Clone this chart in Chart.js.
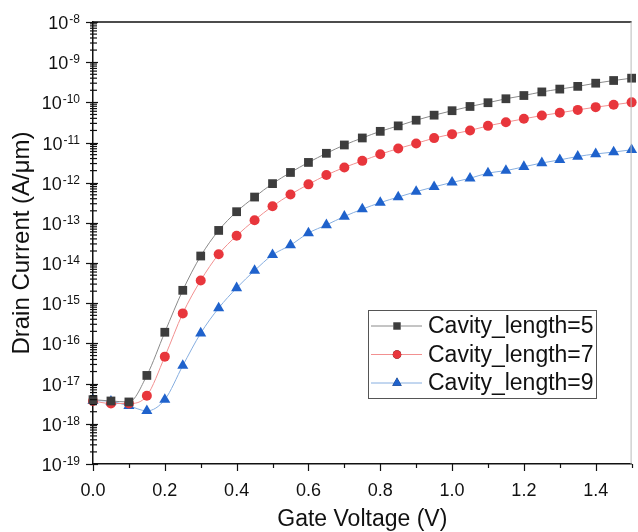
<!DOCTYPE html>
<html>
<head>
<meta charset="utf-8">
<script src="https://cdn.jsdelivr.net/npm/chart.js@4.4.0/dist/chart.umd.min.js"></script>
<style>
  html, body { margin: 0; padding: 0; background: #fff; }
</style>
</head>
<body>
<canvas id="ivChart" width="638" height="532"></canvas>
<script>
// Gate voltage sweep (V)
const gateVoltage = [0, 0.05, 0.1, 0.15, 0.2, 0.25, 0.3, 0.35, 0.4, 0.45, 0.5, 0.55, 0.6, 0.65, 0.7, 0.75,
  0.8, 0.85, 0.9, 0.95, 1.0, 1.05, 1.1, 1.15, 1.2, 1.25, 1.3, 1.35, 1.4, 1.45, 1.5];

// Drain current (A/um)
const cavity5 = [4.0e-18, 3.7e-18, 3.5e-18, 1.6e-17, 1.9e-16, 2.1e-15, 1.5e-14, 6.5e-14, 1.9e-13, 4.4e-13,
  9.5e-13, 1.8e-12, 3.2e-12, 5.4e-12, 8.7e-12, 1.3e-11, 1.9e-11, 2.6e-11, 3.6e-11, 4.8e-11,
  6.2e-11, 7.9e-11, 9.8e-11, 1.23e-10, 1.48e-10, 1.82e-10, 2.14e-10, 2.5e-10, 3.0e-10, 3.5e-10, 4.0e-10];
const cavity7 = [3.7e-18, 3.2e-18, 3.2e-18, 5.0e-18, 4.7e-17, 5.6e-16, 3.7e-15, 1.66e-14, 4.8e-14, 1.17e-13,
  2.6e-13, 5.1e-13, 9.1e-13, 1.55e-12, 2.4e-12, 3.5e-12, 5.1e-12, 7.1e-12, 9.5e-12, 1.29e-11,
  1.62e-11, 2.0e-11, 2.6e-11, 3.2e-11, 3.9e-11, 4.7e-11, 5.5e-11, 6.5e-11, 7.6e-11, 8.7e-11, 1.0e-10];
const cavity9 = [3.8e-18, 3.6e-18, 2.8e-18, 2.1e-18, 4.0e-18, 2.8e-17, 1.8e-16, 7.6e-16, 2.4e-15, 6.5e-15,
  1.6e-14, 2.8e-14, 5.6e-14, 8.9e-14, 1.45e-13, 2.2e-13, 3.2e-13, 4.4e-13, 6.0e-13, 7.9e-13,
  1.02e-12, 1.29e-12, 1.74e-12, 2.0e-12, 2.5e-12, 3.1e-12, 3.7e-12, 4.5e-12, 5.2e-12, 5.8e-12, 6.6e-12];

const seriesNames = ['Cavity_length=5', 'Cavity_length=7', 'Cavity_length=9'];

// axis ticks
const xMajorTicks = [0, 0.2, 0.4, 0.6, 0.8, 1.0, 1.2, 1.4];
const xMinorTicks = [0.1, 0.3, 0.5, 0.7, 0.9, 1.1, 1.3, 1.5];
const yDecades = [-19, -18, -17, -16, -15, -14, -13, -12, -11, -10, -9, -8];

const FONT = "'Liberation Sans', Arial, sans-serif";

// frame, tick marks, 10^n labels and the boxed legend
const framePlugin = {
  id: 'originFrame',
  afterDraw(chart) {
    const ctx = chart.ctx;
    const area = chart.chartArea;
    const xs = chart.scales.x, ys = chart.scales.y;
    ctx.save();
    ctx.strokeStyle = '#111';
    ctx.lineWidth = 1.5;
    ctx.beginPath();
    ctx.moveTo(area.left, area.top); ctx.lineTo(area.right, area.top);
    ctx.stroke();
    ctx.strokeStyle = '#bbb';
    ctx.lineWidth = 1;
    ctx.beginPath();
    ctx.moveTo(area.right - 0.5, area.top); ctx.lineTo(area.right - 0.5, area.bottom);
    ctx.stroke();

    // y ticks + labels
    ctx.strokeStyle = '#111';
    ctx.fillStyle = '#111';
    ctx.lineWidth = 1.2;
    yDecades.forEach(e => {
      const py = Math.round(ys.getPixelForValue(Math.pow(10, e))) + 0.5;
      ctx.beginPath(); ctx.moveTo(area.left - 7, py); ctx.lineTo(area.left + 5, py); ctx.stroke();
      if (e < -8) {
        for (let m = 2; m <= 9; m++) {
          const p = ys.getPixelForValue(m * Math.pow(10, e));
          ctx.beginPath(); ctx.moveTo(area.left - 3, p); ctx.lineTo(area.left + 4, p); ctx.stroke();
        }
      }
      ctx.textAlign = 'right';
      ctx.textBaseline = 'alphabetic';
      ctx.font = '12px ' + FONT;
      const expText = String(e);
      const expRight = area.left - 13;
      ctx.fillText(expText, expRight, py + 0.5);
      const expW = ctx.measureText(expText).width;
      ctx.font = '18px ' + FONT;
      ctx.fillText('10', expRight - expW - 1, py + 6.5);
    });
    // x ticks
    xMajorTicks.forEach(v => {
      const px = Math.round(xs.getPixelForValue(v)) + 0.5;
      ctx.beginPath(); ctx.moveTo(px, area.bottom); ctx.lineTo(px, area.bottom + 7); ctx.stroke();
    });
    xMinorTicks.forEach(v => {
      const px = Math.round(xs.getPixelForValue(v)) + 0.5;
      ctx.beginPath(); ctx.moveTo(px, area.bottom); ctx.lineTo(px, area.bottom + 4); ctx.stroke();
    });

    // legend
    const box = { left: 368, top: 310, right: 596, bottom: 398 };
    ctx.fillStyle = '#fff';
    ctx.fillRect(box.left, box.top, box.right - box.left, box.bottom - box.top);
    ctx.strokeStyle = '#555';
    ctx.lineWidth = 1;
    ctx.strokeRect(box.left + 0.5, box.top + 0.5, box.right - box.left, box.bottom - box.top);
    chart.data.datasets.forEach((ds, i) => {
      const cy = box.top + 16 + i * 28.5;
      ctx.strokeStyle = ds.borderColor;
      ctx.lineWidth = 1;
      ctx.beginPath(); ctx.moveTo(box.left + 3, cy); ctx.lineTo(box.left + 54, cy); ctx.stroke();
      Chart.helpers.drawPoint(ctx, {
        pointStyle: ds.pointStyle, radius: ds.pointRadius * 0.85, borderWidth: 0, rotation: 0
      }, box.left + 29, cy);
      ctx.fillStyle = ds.pointBackgroundColor;
      ctx.fill();
      ctx.fillStyle = '#111';
      ctx.font = '23px ' + FONT;
      ctx.textBaseline = 'middle';
      ctx.textAlign = 'left';
      ctx.fillText(seriesNames[i], box.left + 60, cy + 1);
    });
    ctx.restore();
  }
};

function makeSeries(values, name, lineColor, markColor, style, radius) {
  return {
    label: name,
    data: gateVoltage.map((v, i) => ({ x: v, y: values[i] })),
    borderColor: lineColor,
    borderWidth: 1,
    pointStyle: style,
    pointRadius: radius,
    pointBackgroundColor: markColor,
    pointBorderColor: markColor,
    pointBorderWidth: 0,
    cubicInterpolationMode: 'monotone',
    clip: false
  };
}

const ctx = document.getElementById('ivChart').getContext('2d');
new Chart(ctx, {
  type: 'line',
  data: {
    datasets: [
      makeSeries(cavity5, seriesNames[0], '#8a8a8a', '#3d3d3d', 'rect', 6.2),
      makeSeries(cavity7, seriesNames[1], '#f29090', '#e8363c', 'circle', 5),
      makeSeries(cavity9, seriesNames[2], '#86aee0', '#1f62cc', 'triangle', 6.4)
    ]
  },
  options: {
    responsive: false,
    animation: false,
    layout: { padding: { top: 22, right: 1, left: 0, bottom: 0 } },
    plugins: {
      legend: { display: false },
      tooltip: { enabled: false }
    },
    scales: {
      x: {
        type: 'linear',
        min: 0,
        max: 1.5,
        afterBuildTicks: scale => { scale.ticks = xMajorTicks.map(v => ({ value: v })); },
        afterFit: scale => { scale.height = 68; },
        grid: { display: false, drawTicks: false },
        border: { display: true, color: '#111', width: 1.5 },
        ticks: {
          padding: 16,
          color: '#111',
          font: { family: FONT, size: 18 },
          maxRotation: 0,
          autoSkip: false,
          callback: value => Number(value).toFixed(1)
        },
        title: {
          display: true,
          text: 'Gate Voltage (V)',
          color: '#111',
          font: { family: FONT, size: 23, lineHeight: 1.1 },
          padding: { top: 0, bottom: 0 }
        }
      },
      y: {
        type: 'logarithmic',
        min: 1e-19,
        max: 1e-8,
        afterBuildTicks: scale => { scale.ticks = yDecades.map(e => ({ value: Math.pow(10, e) })); },
        afterFit: scale => { scale.width = 93; },
        grid: { display: false, drawTicks: false },
        border: { display: true, color: '#111', width: 1.5 },
        ticks: { display: false },
        title: {
          display: true,
          text: 'Drain Current (A/\u03BCm)',
          color: '#111',
          font: { family: FONT, size: 24 },
          padding: { top: 8, bottom: 0 }
        }
      }
    }
  },
  plugins: [framePlugin]
});
</script>
</body>
</html>
